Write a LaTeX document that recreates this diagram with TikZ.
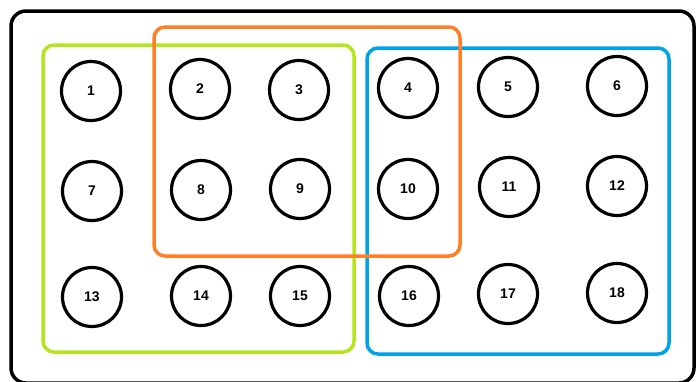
\documentclass[tikz,border=0pt]{standalone}
\usepackage{fontspec}
\setmainfont{Liberation Sans}
\definecolor{grp1}{RGB}{181,230,29}
\definecolor{grp2}{RGB}{255,127,39}
\definecolor{grp3}{RGB}{0,162,232}
\begin{document}
\begin{tikzpicture}[x=1pt,y=-1pt,
  hole/.style={circle,draw=black,line width=3.2pt,minimum size=59pt,inner sep=0pt,font=\bfseries\fontsize{14}{14}\selectfont},
  groupbox/.style={line width=3.5pt,rounded corners=11pt}]
\useasboundingbox (0,0) rectangle (698,381);
\draw[line width=3.5pt,rounded corners=15pt] (11,11) rectangle (694,383);
\draw[groupbox,grp1] (43,45) rectangle (354,352);
\draw[groupbox,grp3] (367,48) rectangle (669,354);
\draw[groupbox,grp2] (154,27) rectangle (460,256);
\node[hole] (n1) at (91,91) {1};
\node[hole] (n2) at (200,89) {2};
\node[hole] (n3) at (299,90) {3};
\node[hole] (n4) at (408,88) {4};
\node[hole] (n5) at (508,87) {5};
\node[hole] (n6) at (617,86) {6};
\node[hole] (n7) at (92,191) {7};
\node[hole] (n8) at (201,190) {8};
\node[hole] (n9) at (300,189) {9};
\node[hole] (n10) at (408,189) {10};
\node[hole] (n11) at (509,187) {11};
\node[hole] (n12) at (617,186) {12};
\node[hole] (n13) at (92,297) {13};
\node[hole] (n14) at (201,296) {14};
\node[hole] (n15) at (300,296) {15};
\node[hole] (n16) at (409,296) {16};
\node[hole] (n17) at (508,294) {17};
\node[hole] (n18) at (617,293) {18};
\end{tikzpicture}
\end{document}
